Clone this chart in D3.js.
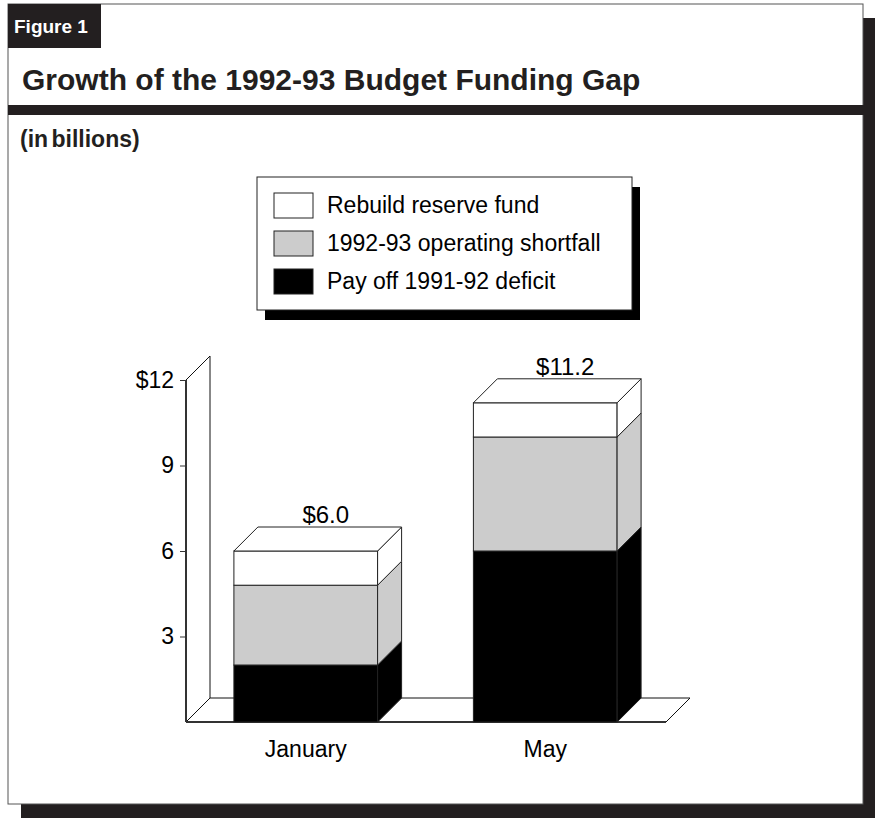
<!DOCTYPE html>
<html>
<head>
<meta charset="utf-8">
<script src="https://cdn.jsdelivr.net/npm/d3@7"></script>
<style>
  html, body { margin: 0; padding: 0; background: #fff; }
  svg { display: block; font-family: "Liberation Sans", Arial, Helvetica, sans-serif; }
</style>
</head>
<body>
<svg id="chart" width="875" height="818"></svg>
<script>
// Budget funding gap, in billions of dollars
const categories = ["January", "May"];
const seriesNames = ["Pay off 1991-92 deficit", "1992-93 operating shortfall", "Rebuild reserve fund"];
const payOffDeficit = [2.0, 6.0];
const operatingShortfall = [2.8, 4.0];
const rebuildReserve = [1.2, 1.2];
const totalLabels = ["$6.0", "$11.2"];
const tickValues = [3, 6, 9, 12];
const tickLabels = ["3", "6", "9", "$12"];
const seriesColors = ["#000000", "#cccccc", "#ffffff"];

const svg = d3.select("#chart");
const ink = "#231f20";

// ---- page frame with drop shadow ----
const frame = { x: 8, y: 4, w: 855, h: 800 };
const shadowOff = { x: 13, y: 14 };
svg.append("rect")
  .attr("x", frame.x + shadowOff.x).attr("y", frame.y + shadowOff.y)
  .attr("width", frame.w).attr("height", frame.h)
  .attr("fill", ink);
svg.append("rect")
  .attr("x", frame.x).attr("y", frame.y)
  .attr("width", frame.w).attr("height", frame.h)
  .attr("fill", "#fff").attr("stroke", "#555").attr("stroke-width", 1);

// header: figure tab, title band and dark rule
svg.append("rect").attr("x", frame.x).attr("y", frame.y).attr("width", 93).attr("height", 44).attr("fill", ink);
svg.append("text").attr("x", 14).attr("y", 33).attr("fill", "#fff")
  .attr("font-weight", "bold").attr("font-size", 19).text("Figure 1");
svg.append("rect").attr("x", frame.x).attr("y", 105).attr("width", 869).attr("height", 10).attr("fill", ink);
svg.append("text").attr("x", 22).attr("y", 90).attr("fill", ink)
  .attr("font-weight", "bold").attr("font-size", 30).text("Growth of the 1992-93 Budget Funding Gap");
svg.append("text").attr("x", 20).attr("y", 147).attr("fill", ink)
  .attr("font-weight", "bold").attr("font-size", 23).attr("word-spacing", -3).text("(in billions)");

// ---- legend ----
const lg = { x: 257, y: 177, w: 375, h: 133 };
svg.append("rect").attr("x", lg.x + 8).attr("y", lg.y + 10).attr("width", lg.w).attr("height", lg.h).attr("fill", "#000");
svg.append("rect").attr("x", lg.x).attr("y", lg.y).attr("width", lg.w).attr("height", lg.h)
  .attr("fill", "#fff").attr("stroke", "#222").attr("stroke-width", 1);
const legendOrder = [2, 1, 0];
legendOrder.forEach((si, i) => {
  const yy = lg.y + 16 + i * 38;
  svg.append("rect").attr("x", 274).attr("y", yy).attr("width", 39).attr("height", 25)
    .attr("fill", seriesColors[si]).attr("stroke", "#222").attr("stroke-width", 1);
  svg.append("text").attr("x", 327).attr("y", yy + 20).attr("font-size", 23).attr("fill", "#000")
    .text(seriesNames[si]);
});

// ---- 3D stacked bar chart ----
const depth = 24;
const y = d3.scaleLinear().domain([0, 12]).range([722, 380]);
const x = d3.scaleBand().domain(categories).range([186, 665]).paddingInner(0.4).paddingOuter(0.2);
const x0 = 186, x1 = 666, y0 = y(0);

const g = svg.append("g");

// back wall edge and floor
g.append("path")
  .attr("d", `M${x0},${y(12)} L${x0 + depth},${y(12) - depth} L${x0 + depth},${y0 - depth}`)
  .attr("fill", "none").attr("stroke", "#111").attr("stroke-width", 1);
g.append("path")
  .attr("d", `M${x0},${y0} L${x0 + depth},${y0 - depth} L${x1 + depth},${y0 - depth} L${x1},${y0} Z`)
  .attr("fill", "#fff").attr("stroke", "#111").attr("stroke-width", 1);

// front value axis
const axis = d3.axisLeft(y).tickValues(tickValues).tickSize(6).tickPadding(6)
  .tickFormat((d, i) => tickLabels[i]);
const axG = g.append("g").attr("transform", `translate(${x0},0)`).call(axis);
axG.select(".domain").remove();
axG.selectAll(".tick line").attr("stroke", "#333").attr("stroke-width", 1);
axG.selectAll(".tick text").attr("font-size", 23).attr("fill", "#000")
  .attr("font-family", "\"Liberation Sans\", Arial, sans-serif");
g.append("line").attr("x1", x0).attr("x2", x0).attr("y1", y(12)).attr("y2", y0)
  .attr("stroke", "#333").attr("stroke-width", 2);
g.append("line").attr("x1", x0).attr("x2", x1).attr("y1", y0).attr("y2", y0)
  .attr("stroke", "#333").attr("stroke-width", 2);

// stacked data
const rows = categories.map((c, i) => ({
  cat: c,
  vals: [payOffDeficit[i], operatingShortfall[i], rebuildReserve[i]]
}));

rows.forEach((row, ri) => {
  const bx = x(row.cat), bw = x.bandwidth();
  let base = 0;
  row.vals.forEach((v, si) => {
    const top = base + v;
    const yt = y(top), yb = y(base);
    // front face
    g.append("rect").attr("x", bx).attr("y", yt).attr("width", bw).attr("height", yb - yt)
      .attr("fill", seriesColors[si]).attr("stroke", "#222").attr("stroke-width", 1);
    // right side face
    g.append("path")
      .attr("d", `M${bx + bw},${yt} L${bx + bw + depth},${yt - depth} L${bx + bw + depth},${yb - depth} L${bx + bw},${yb} Z`)
      .attr("fill", seriesColors[si]).attr("stroke", "#222").attr("stroke-width", 1);
    base = top;
  });
  // top face of the stack
  const yt = y(base);
  const topColor = seriesColors[row.vals.length - 1];
  g.append("path")
    .attr("d", `M${bx},${yt} L${bx + depth},${yt - depth} L${bx + bw + depth},${yt - depth} L${bx + bw},${yt} Z`)
    .attr("fill", topColor).attr("stroke", "#222").attr("stroke-width", 1);
  // total label
  g.append("text").attr("x", bx + bw / 2 + 20).attr("y", yt - depth - 4)
    .attr("text-anchor", "middle").attr("font-size", 24).attr("fill", "#000")
    .text(totalLabels[ri]);
  // category label
  g.append("text").attr("x", bx + bw / 2).attr("y", 757)
    .attr("text-anchor", "middle").attr("font-size", 23).attr("fill", "#000")
    .text(row.cat);
});
</script>
</body>
</html>
